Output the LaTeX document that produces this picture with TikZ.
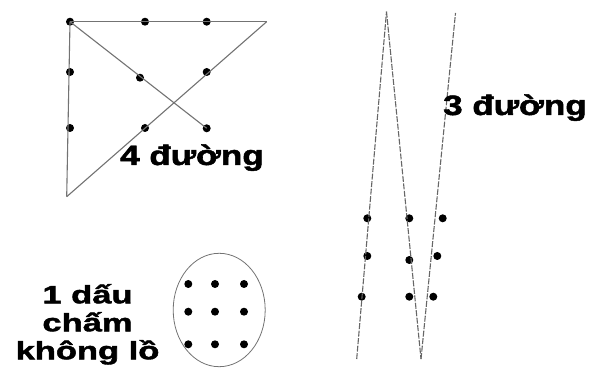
\documentclass[tikz,border=0pt]{standalone}
\usepackage{fontspec}
\setmainfont{Liberation Sans}
\newfontfamily\heavyfont[FakeBold=1.6]{Liberation Sans Bold}
\usepackage{graphicx}
\usetikzlibrary{positioning}
\newcommand{\widetxt}[2][1.25]{\scalebox{#1}[1]{#2}}
\tikzset{
  gamedot/.style={
    circle,
    fill=black,
    inner sep=0pt,
    minimum size=8pt
  },
  gameline/.style={
    draw=black!55,
    line width=1.1pt
  },
  gamedash/.style={
    draw=black!60,
    line width=1.1pt,
    dash pattern=on 6pt off 1.5pt
  },
  gameoval/.style={
    draw=black!55,
    line width=0.8pt
  },
  gamelabel/.style={
    font=\heavyfont\fontsize{28}{28}\selectfont,
    inner sep=0pt
  }
}

\begin{document}
\begin{tikzpicture}[x=1pt,y=-1pt]
    \useasboundingbox (0,0) rectangle (589,371);

    % four lines
    \node[gamedot] (a1) at (70,21.7) {};
    \node[gamedot] (a2) at (145,21.7) {};
    \node[gamedot] (a3) at (206.7,21.7) {};
    \node[gamedot] (a4) at (70,72) {};
    \node[gamedot] (a5) at (140,77.7) {};
    \node[gamedot] (a6) at (206.7,72) {};
    \node[gamedot] (a7) at (70,128) {};
    \node[gamedot] (a8) at (145,128) {};
    \node[gamedot] (a9) at (206.7,128.3) {};
    \coordinate (acorner) at (266.7,21.7);
    \coordinate (abottom) at (66.7,196.7);

    \draw[gameline] (a1.center) -- (acorner);
    \draw[gameline] (acorner) -- (abottom);
    \draw[gameline] (abottom) -- (a1.center);
    \draw[gameline] (a1.center) -- (a9.center);

    \node[gamelabel, anchor=base west] (four) at (120,165) {\widetxt{4 đường}};

    % three lines
    \node[gamedot] (b1) at (367.3,218.3) {};
    \node[gamedot] (b2) at (409.3,218.3) {};
    \node[gamedot] (b3) at (442.7,218.3) {};
    \node[gamedot] (b4) at (367.3,256) {};
    \node[gamedot] (b5) at (409.3,260) {};
    \node[gamedot] (b6) at (437.3,256) {};
    \node[gamedot] (b7) at (361.7,296.7) {};
    \node[gamedot] (b8) at (409.3,296.7) {};
    \node[gamedot] (b9) at (433.3,296.7) {};
    \coordinate (bstart) at (356.7,359);
    \coordinate (btop) at (386.5,11.7);
    \coordinate (bvee) at (421,359);
    \coordinate (bend) at (455.5,13);

    \draw[gamedash] (bstart) -- (btop);
    \draw[gamedash] (btop) -- (bvee);
    \draw[gamedash] (bvee) -- (bend);

    \node[gamelabel, anchor=base west] (three) at (443,115) {\widetxt{3 đường}};

    % one big dot
    \draw[gameoval] (219.2,310) ellipse [x radius=46, y radius=56.7];
    \foreach \row/\y in {1/284,2/311.7,3/344.3}
      \foreach \col/\x in {1/188.3,2/215,3/244}
        \node[gamedot] (c\row\col) at (\x,\y) {};

    \node[gamelabel, font=\heavyfont\fontsize{25}{28}\selectfont, anchor=base] (one) at (87.5,359.3)
      {\widetxt[1.38]{\begin{tabular}[b]{@{}c@{}}1 dấu\\chấm\\không lồ\end{tabular}}};
\end{tikzpicture}
\end{document}
